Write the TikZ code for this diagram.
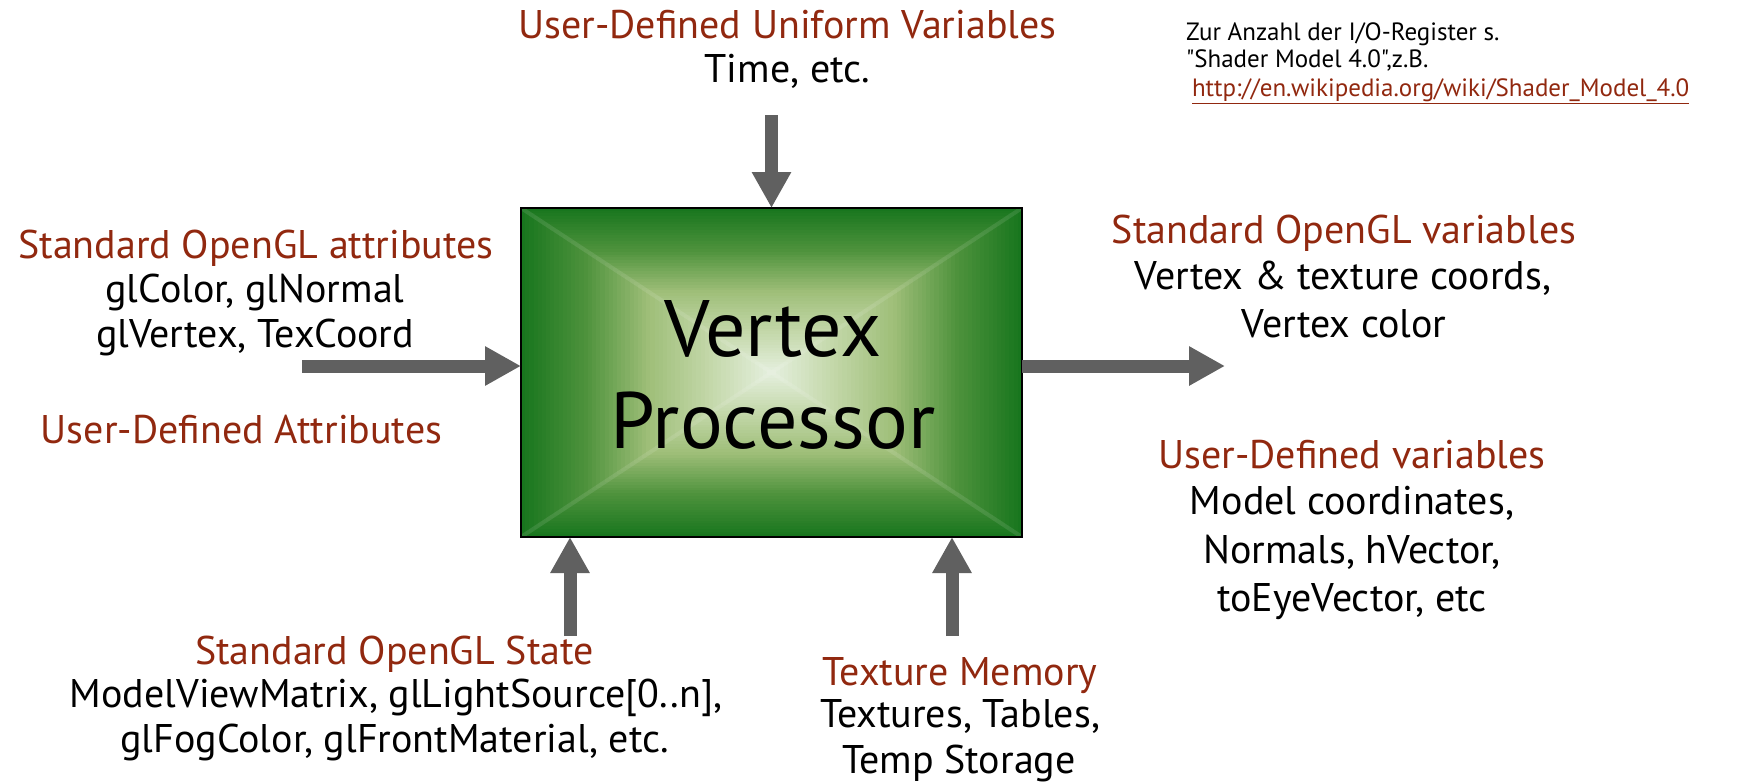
\documentclass[tikz,border=0pt]{standalone}
\usepackage{fontspec}
\setmainfont{PT Sans}
\newfontfamily\plainquotes{PT Sans}
\usetikzlibrary{arrows.meta}
\definecolor{redtxt}{RGB}{145,40,15}
\definecolor{arrgray}{RGB}{96,96,96}
\definecolor{g0}{RGB}{24,118,30}
\definecolor{g1}{RGB}{78,146,60}
\definecolor{g2}{RGB}{158,190,120}
\definecolor{g3}{RGB}{196,216,170}
\definecolor{g4}{RGB}{230,240,224}
\begin{document}
\begin{tikzpicture}[x=1pt,y=-1pt,
  lbl/.style={inner sep=0pt, outer sep=0pt, anchor=base, font=\fontsize{40}{48}\selectfont},
  ttl/.style={lbl, text=redtxt},
  body/.style={lbl, text=black},
  big/.style={inner sep=0pt, outer sep=0pt, anchor=base, font=\fontsize{80}{96}\selectfont},
  note/.style={inner sep=0pt, outer sep=0pt, anchor=base west, font=\fontsize{25}{30}\selectfont},
  fatarrow/.style={draw=arrgray, line width=13pt, -{Triangle[length=36pt,width=37pt]}},
  box/.style={draw=black, line width=1.8pt, minimum width=501pt, minimum height=329pt, inner sep=0pt, outer sep=0pt},
]
\useasboundingbox (0,0) rectangle (1738,782);
% gradient fill of the processor box
\foreach \seg/\ca/\cb in {0/g0/g1,1/g1/g2,2/g2/g3,3/g3/g4} {
  \foreach \k in {0,...,14} {
    \pgfmathsetmacro\s{(\seg*15+\k)/60}
    \pgfmathsetmacro\p{\k/15*100}
    \pgfmathsetmacro\hw{(1-\s)*250.5}
    \pgfmathsetmacro\hh{(1-\s)*164.5}
    \fill[\cb!\p!\ca] (771.5-\hw,372.5-\hh) rectangle (771.5+\hw,372.5+\hh);
  }
}
\draw[white, opacity=0.1, line width=4pt] (521,208) -- (771.5,372.5) -- (1022,208)
  (521,537) -- (771.5,372.5) -- (1022,537);
\node[box] (vp) at (771.5,372.5) {};
\node[big] (vt1) at (773,356) {Vertex};
\node[big] (vt2) at (773,448) {Processor};

% arrows
\coordinate (tsrc) at (771.5,115);
\draw[fatarrow] (tsrc) -- (vp.north);
\coordinate (lsrc) at (302,366);
\draw[fatarrow] (lsrc) -- (lsrc -| vp.west);
\coordinate (rdst) at (1225,366);
\draw[fatarrow] (rdst -| vp.east) -- (rdst);
\coordinate (blsrc) at (570,636);
\draw[fatarrow] (blsrc) -- (blsrc |- vp.south);
\coordinate (brsrc) at (952,636);
\draw[fatarrow] (brsrc) -- (brsrc |- vp.south);

% top
\node[ttl] (u1) at (787.5,38) {User-Defined Uniform Variables};
\node[body] (u2) at (787.5,82) {Time, etc.};
% note
\node[note] (n1) at (1186,40) {Zur Anzahl der I/O-Register s.};
\node[note] (n2) at (1186,67) {{\plainquotes "Shader Model 4.0",z.B.}};
\node[note, text=redtxt] (n3) at (1192,96) {\underline{http://en.wikipedia.org/wiki/Shader\_Model\_4.0}};
% left
\node[ttl] (a1) at (256,258) {Standard OpenGL attributes};
\node[body] (a2) at (255,302) {glColor, glNormal};
\node[body] (a3) at (255,347) {glVertex, TexCoord};
\node[ttl] (a4) at (241.5,443) {User-Defined Attributes};
% right
\node[ttl] (v1) at (1344,243) {Standard OpenGL variables};
\node[body] (v2) at (1343,289) {Vertex \& texture coords,};
\node[body] (v3) at (1344,337) {Vertex color};
\node[ttl] (w1) at (1352,468) {User-Defined variables};
\node[body] (w2) at (1352,514) {Model coordinates,};
\node[body] (w3) at (1352,563) {Normals, hVector,};
\node[body] (w4) at (1352,611) {toEyeVector, etc};
% bottom
\node[ttl] (s1) at (394.5,664) {Standard OpenGL State};
\node[body] (s2) at (396,707) {ModelViewMatrix, glLightSource[0..n],};
\node[body] (s3) at (394.5,752) {glFogColor, glFrontMaterial, etc.};
\node[ttl] (t1) at (960,685) {Texture Memory};
\node[body] (t2) at (960,727) {Textures, Tables,};
\node[body] (t3) at (959,773) {Temp Storage};
\end{tikzpicture}
\end{document}
